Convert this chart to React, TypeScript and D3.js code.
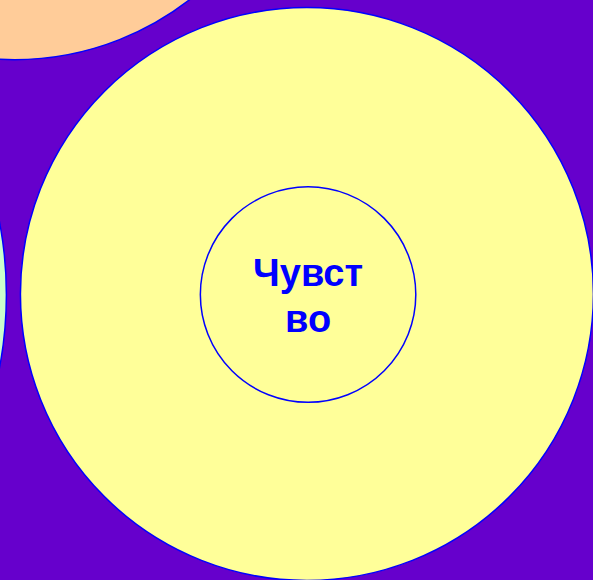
import React from "react";
import * as d3 from "d3";

const WIDTH = 593;
const HEIGHT = 580;

// Pack-layout nodes in data coordinates (focused node "Чувство" at origin)
const nodeNames = ["Соседний-1", "Соседний-2", "Чувство", "Чувство-внутр"];
const nodeX = [-102.1, -240.2, 0, 0.4];
const nodeY = [-181.5, 0.3, 0, 0.2];
const nodeR = [99.7, 135.3, 100, 37.6];
const nodeFill = ["#ffcc99", "#ccffcc", "#ffff99", "none"];

const labelLines = ["Чувст", "во"];

// current zoom view: [x, y, r]
const view = [0.2, 0.0, 100];

export default function App() {
  React.useEffect(() => {
    document.body.style.margin = "0";
  }, []);
  const k = 286.5 / view[2];
  const cx0 = 307.5;
  const cy0 = 294;
  const sx = d3.scaleLinear().domain([view[0], view[0] + 1]).range([cx0, cx0 + k]);
  const sy = d3.scaleLinear().domain([view[1], view[1] + 1]).range([cy0, cy0 + k]);

  const labelX = sx(nodeX[3]);
  const labelY = sy(nodeY[3]);
  const lineH = 46;
  return (
    <svg
      width={WIDTH}
      height={HEIGHT}
      style={{ position: "absolute", left: 0, top: 0, display: "block", background: "#6600cc" }}
    >
      <rect width={WIDTH} height={HEIGHT} fill="#6600cc" />
      {nodeNames.map((n, i) => (
        <circle
          key={n}
          cx={sx(nodeX[i])}
          cy={sy(nodeY[i])}
          r={nodeR[i] * k}
          fill={nodeFill[i]}
          stroke="#0000ff"
          strokeWidth={1.5}
        />
      ))}
      <text
        x={labelX}
        textAnchor="middle"
        fontFamily="Liberation Sans, Arial, sans-serif"
        fontWeight="bold"
        fontSize={38}
        fill="#0000ff"
      >
        {labelLines.map((l, i) => (
          <tspan key={i} x={labelX} y={labelY - 9 + i * lineH}>
            {l}
          </tspan>
        ))}
      </text>
    </svg>
  );
}
